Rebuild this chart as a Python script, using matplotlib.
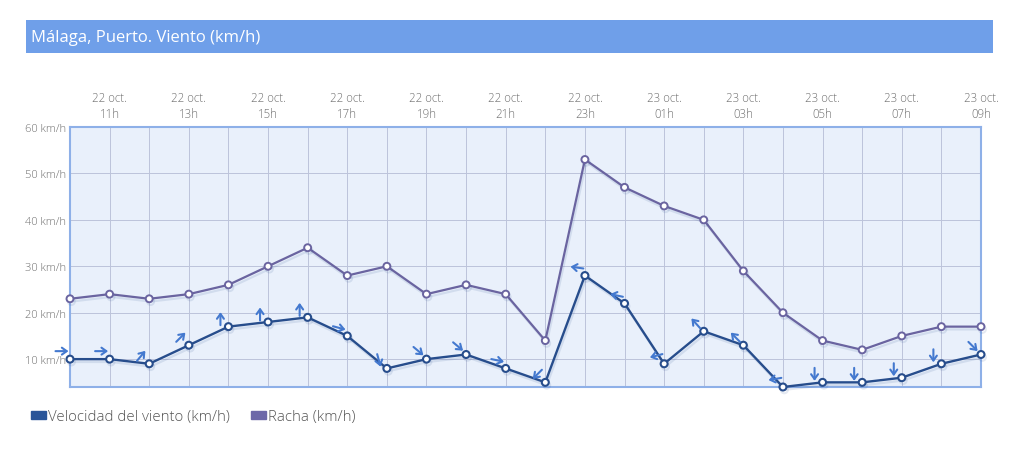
import matplotlib
matplotlib.use("Agg")
import matplotlib.pyplot as plt
import matplotlib.patches as mpatches
import matplotlib.patheffects as pe
from matplotlib.transforms import ScaledTranslation
import numpy as np

plt.rcParams['font.family'] = ['Open Sans', 'DejaVu Sans']

hours = ['10h', '11h', '12h', '13h', '14h', '15h', '16h', '17h', '18h', '19h', '20h', '21h',
         '22h', '23h', '00h', '01h', '02h', '03h', '04h', '05h', '06h', '07h', '08h', '09h']
days = ['22 oct.'] * 14 + ['23 oct.'] * 10
wind = [10, 10, 9, 13, 17, 18, 19, 15, 8, 10, 11, 8, 5, 28, 22, 9, 16, 13, 4, 5, 5, 6, 9, 11]
gust = [23, 24, 23, 24, 26, 30, 34, 28, 30, 24, 26, 24, 14, 53, 47, 43, 40, 29, 20, 14, 12, 15, 17, 17]
# direction the arrow points (degrees, counter-clockwise from east)
direction = [0, 0, 50, 45, 90, 90, 90, -15, -75, -40, -40, -12, -135, 172, 168, 195, 132, 135,
             190, -90, -90, -90, -90, -45]
yticks = [10, 20, 30, 40, 50, 60]

W, H = 1030, 452
fig = plt.figure(figsize=(W / 100, H / 100), dpi=100)
fig.patch.set_facecolor('white')

# title bar
fig.patches.append(mpatches.Rectangle((26 / W, 1 - 54 / H), 967 / W, 33 / H,
                                      transform=fig.transFigure, facecolor='#6f9fe9',
                                      edgecolor='none', zorder=0))
fig.text(31 / W, 1 - 38 / H, 'Málaga, Puerto. Viento (km/h)', color='white',
         fontsize=12, va='center', ha='left')

ax = fig.add_axes([70 / W, 1 - 388 / H, 911 / W, 260 / H])
ax.set_facecolor('#e9f0fb')
x = np.arange(len(hours))
ax.set_xlim(0, len(hours) - 1)
ax.set_ylim(4, 60)

ax.set_xticks(x)
labels = [f'{d}\n{h}' if i % 2 == 1 else '' for i, (d, h) in enumerate(zip(days, hours))]
ax.set_xticklabels(labels)
ax.xaxis.tick_top()
ax.tick_params(axis='x', length=0, pad=5, labelsize=8.3, labelcolor='#6e6e6e')
ax.set_yticks(yticks)
ax.set_yticklabels([f'{v} km/h' for v in yticks])
ax.tick_params(axis='y', length=0, pad=3, labelsize=8.0, labelcolor='#6e6e6e')
for lab in ax.get_xticklabels() + ax.get_yticklabels():
    lab.set_linespacing(1.35)
    lab.set_fontweight('light')

ax.grid(True, color='#bcc3da', linewidth=0.7)
ax.set_axisbelow(True)
for s in ax.spines.values():
    s.set_color('#8eb0e8')
    s.set_linewidth(1.5)

shadow = [pe.SimpleLineShadow(offset=(1, -2), alpha=0.12, shadow_color='#2a4f8f'), pe.Normal()]
ax.plot(x, gust, color='#6a64a0', lw=1.6, marker='o', ms=5, mfc='white', mec='#6a64a0',
        mew=1.4, zorder=3, path_effects=shadow, clip_on=False)
ax.plot(x, wind, color='#274d8c', lw=1.7, marker='o', ms=5, mfc='white', mec='#274d8c',
        mew=1.5, zorder=4, path_effects=shadow, clip_on=False)

# wind direction arrows
half = 6.5
for xi, yi, d in zip(x, wind, direction):
    c, s = np.cos(np.radians(d)), np.sin(np.radians(d))
    cx, cy = -8, 8
    tail = ax.transData + ScaledTranslation((cx - half * c) / 100, (cy - half * s) / 100, fig.dpi_scale_trans)
    tip = ax.transData + ScaledTranslation((cx + half * c) / 100, (cy + half * s) / 100, fig.dpi_scale_trans)
    ax.annotate('', xy=(xi, yi), xycoords=tip, xytext=(xi, yi), textcoords=tail,
                arrowprops=dict(arrowstyle='->,head_length=0.35,head_width=0.25',
                                color='#4479cf', lw=1.5, shrinkA=0, shrinkB=0),
                annotation_clip=False, zorder=5)

handles = [mpatches.Patch(color='#2a5599', label='Velocidad del viento (km/h)'),
           mpatches.Patch(color='#6d68a8', label='Racha (km/h)')]
leg = fig.legend(handles=handles, loc='center left', bbox_to_anchor=(17 / W, 1 - 418 / H),
                 ncol=2, frameon=False, fontsize=10.8, handlelength=1.0, handleheight=0.5,
                 handletextpad=0.15, columnspacing=1.4, labelcolor='#555555')
for t in leg.get_texts():
    t.set_fontweight('light')

fig.savefig('out.png', dpi=100)
